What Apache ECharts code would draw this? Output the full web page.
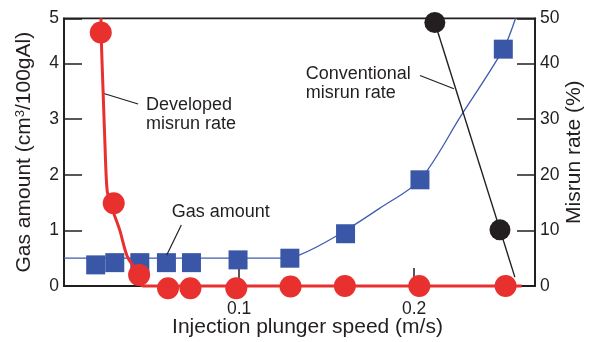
<!DOCTYPE html>
<html><head><meta charset="utf-8">
<script src="https://cdn.jsdelivr.net/npm/echarts@6/dist/echarts.min.js"></script>
<style>html,body{margin:0;padding:0;background:#fff}#c{width:594px;height:342px}</style>
</head><body><div id="c"></div>
<script>
// ---- data ----
// Gas amount (left axis, cm3/100gAl) vs injection plunger speed (m/s)
const gasSpeed  = [0.0181, 0.0290, 0.0433, 0.0585, 0.0728, 0.0994, 0.1290, 0.1608, 0.2033, 0.2509];
const gasAmount = [0.38, 0.42, 0.42, 0.42, 0.42, 0.47, 0.50, 0.94, 1.91, 4.26];
// gas amount trend curve
const gasFitSpeed  = [0, 0.1232, 0.1346, 0.1556, 0.1804, 0.2033, 0.2265, 0.2509, 0.2579];
const gasFitAmount = [0.50, 0.50, 0.56, 0.90, 1.40, 1.91, 3.05, 4.26, 4.815];
// Developed misrun rate (right axis, %)
const devSpeed = [0.0210, 0.0284, 0.0429, 0.0594, 0.0722, 0.0984, 0.1294, 0.1604, 0.2029, 0.2522];
const devRate  = [45.6, 14.9, 2.0, -0.4, -0.4, -0.4, -0.1, 0, 0, 0];
// developed misrun trend curve
const devFitSpeed = [0.0211, 0.0215, 0.0223, 0.0233, 0.0246, 0.0267, 0.0318, 0.0362, 0.0429, 0.0451, 0.2614];
const devFitRate  = [48.15, 42.4, 35.3, 26.3, 17.3, 14.6, 10.1, 5.3, 2.0, 0, 0];
// Conventional misrun rate (right axis, %)
const convSpeed = [0.2118, 0.2490];
const convRate  = [47.4, 10.1];
const convFitSpeed = [0.2118, 0.2575];
const convFitRate  = [47.4, 1.6];
// axis ticks
const speedTickValues = [0.1, 0.2];
const speedTickLabels = ['0.1', '0.2'];
const gasTickValues = [0, 1, 2, 3, 4, 4.815];
const gasTickLabels = ['0', '1', '2', '3', '4', '5'];
const rateTickValues = [0, 10, 20, 30, 40, 48.15];
const rateTickLabels = ['0', '10', '20', '30', '40', '50'];
const speedMax = 0.269, gasMax = 4.815, rateMax = 48.15;

// ---- styling ----
const FONT = '"Liberation Sans", Arial, Helvetica, sans-serif';
const INK = '#231f20';
const RED = '#e8312f';
const BLUE = '#3a57a7';
const pairs = (xs, ys) => xs.map((x, i) => [x, ys[i]]);
const lookup = (vals, labels) => v => {
  for (let i = 0; i < vals.length; i++) if (Math.abs(vals[i] - v) < 1e-6) return labels[i];
  return '';
};
const leader = (a, b) => ({
  silent: true, symbol: ['none', 'none'], animation: false,
  label: { show: false }, emphasis: { disabled: true },
  lineStyle: { color: INK, width: 1.2, type: 'solid' },
  data: [[{ coord: a }, { coord: b }]]
});
const tickStyle = { show: true, inside: true, length: 18, lineStyle: { color: INK, width: 1.5 } };
const labelStyle = { color: INK, fontSize: 17.5, fontFamily: FONT };
const nameStyle = { color: INK, fontSize: 21, fontFamily: FONT };

const chart = echarts.init(document.getElementById('c'), null, { renderer: 'canvas' });
chart.setOption({
  animation: false,
  backgroundColor: '#fff',
  grid: { left: 64, right: 59, top: 18.3, bottom: 56, containLabel: false, outerBoundsMode: 'none',
          show: true, borderColor: INK, borderWidth: 1.8, backgroundColor: 'transparent' },
  xAxis: {
    type: 'value', min: 0, max: speedMax, position: 'bottom',
    axisLine: { show: true, lineStyle: { color: INK, width: 1.8 } },
    axisTick: Object.assign({ customValues: speedTickValues }, tickStyle),
    axisLabel: Object.assign({ customValues: speedTickValues, margin: 14.5, formatter: lookup(speedTickValues, speedTickLabels) }, labelStyle),
    splitLine: { show: false },
    name: 'Injection plunger speed (m/s)', nameLocation: 'middle', nameGap: 30.5, nameMoveOverlap: false,
    nameTextStyle: Object.assign({ padding: [0, 0, 0, 16] }, nameStyle)
  },
  yAxis: [{
    type: 'value', min: 0, max: gasMax, position: 'left',
    axisLine: { show: true, lineStyle: { color: INK, width: 1.8 } },
    axisTick: Object.assign({ customValues: gasTickValues }, tickStyle),
    axisLabel: Object.assign({ customValues: gasTickValues, margin: 5, formatter: lookup(gasTickValues, gasTickLabels) }, labelStyle),
    splitLine: { show: false },
    name: 'Gas amount (cm{sup|3}/100gAl)', nameLocation: 'middle', nameGap: 28.5, nameMoveOverlap: false,
    nameTextStyle: Object.assign({ rich: { sup: { fontSize: 13, fontFamily: FONT, color: INK, verticalAlign: 'top', padding: [0, 0, 9, 0] } } }, nameStyle)
  }, {
    type: 'value', min: 0, max: rateMax, position: 'right',
    axisLine: { show: true, lineStyle: { color: INK, width: 1.8 } },
    axisTick: Object.assign({ customValues: rateTickValues }, tickStyle),
    axisLabel: Object.assign({ customValues: rateTickValues, margin: 5, formatter: lookup(rateTickValues, rateTickLabels) }, labelStyle),
    splitLine: { show: false },
    name: 'Misrun rate (%)', nameLocation: 'middle', nameGap: 29, nameRotate: 90, nameMoveOverlap: false,
    nameTextStyle: nameStyle
  }],
  series: [
    { name: 'Gas amount trend', type: 'line', yAxisIndex: 0, z: 2, data: pairs(gasFitSpeed, gasFitAmount),
      smooth: 0.3, symbol: 'none', lineStyle: { color: '#3d5db0', width: 1.3 }, silent: true,
      markLine: leader([0.0670, 1.097], [0.0587, 0.558]) },
    { name: 'Gas amount', type: 'scatter', yAxisIndex: 0, z: 3, data: pairs(gasSpeed, gasAmount),
      symbol: 'rect', symbolSize: 19, itemStyle: { color: BLUE, opacity: 1 }, clip: false },
    { name: 'Conventional trend', type: 'line', yAxisIndex: 1, z: 4, data: pairs(convFitSpeed, convFitRate),
      symbol: 'none', lineStyle: { color: INK, width: 1.4 }, silent: true,
      markLine: leader([0.2033, 37.86], [0.2227, 35.49]) },
    { name: 'Conventional misrun rate', type: 'scatter', yAxisIndex: 1, z: 5, data: pairs(convSpeed, convRate),
      symbol: 'circle', symbolSize: 21, itemStyle: { color: INK, opacity: 1 }, clip: false },
    { name: 'Developed trend', type: 'line', yAxisIndex: 1, z: 6, data: pairs(devFitSpeed, devFitRate),
      smooth: 0.3, symbol: 'none', lineStyle: { color: RED, width: 3 }, silent: true, clip: false,
      markLine: leader([0.0223, 34.66], [0.0423, 32.73]) },
    { name: 'Developed misrun rate', type: 'scatter', yAxisIndex: 1, z: 7, data: pairs(devSpeed, devRate),
      symbol: 'circle', symbolSize: 22, itemStyle: { color: RED, opacity: 1 }, clip: false }
  ],
  graphic: [
    { type: 'text', left: 146, top: 96, style: { text: 'Developed\nmisrun rate', fontSize: 18, fontFamily: FONT, lineHeight: 19, fill: INK } },
    { type: 'text', left: 171.7, top: 202.7, style: { text: 'Gas amount', fontSize: 18, fontFamily: FONT, lineHeight: 19, fill: INK } },
    { type: 'text', left: 305.7, top: 64, style: { text: 'Conventional\nmisrun rate', fontSize: 18, fontFamily: FONT, lineHeight: 19.3, fill: INK } }
  ]
});
</script>
</body></html>
